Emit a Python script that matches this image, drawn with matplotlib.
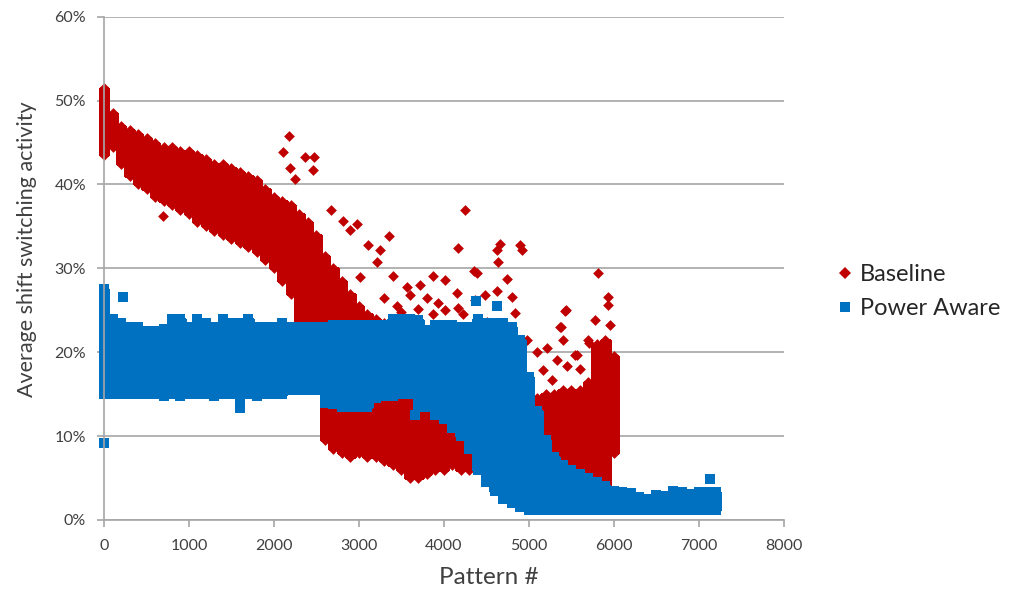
"""Shift switching activity per pattern: baseline vs power-aware ordering."""

import matplotlib

matplotlib.use("Agg")
import matplotlib.pyplot as plt  # noqa: E402
from matplotlib.lines import Line2D  # noqa: E402
from matplotlib.ticker import PercentFormatter  # noqa: E402

RED = "#C00000"
BLUE = "#0070C0"
GRID = "#A6A6A6"
TXT = "#404040"

# Dense core of each cloud, per 100-pattern bin: lowest / highest point (%)
base_x = [0, 100, 200, 300, 400, 500, 600, 700, 800, 900,
          1000, 1100, 1200, 1300, 1400, 1500, 1600, 1700, 1800, 1900,
          2000, 2100, 2200, 2300, 2400, 2500, 2600, 2700, 2800, 2900,
          3000, 3100, 3200, 3300, 3400, 3500, 3600, 3700, 3800, 3900,
          4000, 4100, 4200, 4300, 4400, 4500, 4600, 4700, 4800, 4900,
          5000, 5100, 5200, 5300, 5400, 5500, 5600, 5700, 5800, 5900,
          6000]
base_hi = [51.5, 48.5, 47, 46.5, 46, 45.5, 45, 44.5, 44.5, 44,
           44, 43.5, 43, 42.5, 42.5, 42, 41.5, 41, 40.5, 39.5,
           38.5, 38, 37.5, 36.5, 35.5, 34, 31.5, 30, 28.5, 27,
           25.5, 24.5, 24, 23.5, 20, 20, 20, 18, 18, 18,
           18, 18, 18, 18, 18, 18, 18, 18, 18, 16,
           14.5, 14.5, 15, 15, 15.5, 15.5, 15.5, 16.5, 21, 21.5,
           19.5]
base_lo = [43.5, 44.5, 42.5, 41, 40, 39.5, 38.5, 38, 37.5, 37,
           36.5, 35.5, 35, 34.5, 34, 33.5, 33, 32.5, 32, 31,
           30, 28.5, 27, 20, 20, 20, 9.5, 8.5, 8, 7.5,
           8, 7.5, 7.5, 7, 6.5, 6, 5, 5, 5.5, 6,
           6, 6.5, 6, 6, 6.5, 6, 6, 6, 6, 6,
           6, 6, 6, 6.5, 6, 5.5, 5.5, 5, 4.5, 4,
           8]

power_x = [0, 100, 200, 300, 400, 500, 600, 700, 800, 900,
           1000, 1100, 1200, 1300, 1400, 1500, 1600, 1700, 1800, 1900,
           2000, 2100, 2200, 2300, 2400, 2500, 2600, 2700, 2800, 2900,
           3000, 3100, 3200, 3300, 3400, 3500, 3600, 3700, 3800, 3900,
           4000, 4100, 4200, 4300, 4400, 4500, 4600, 4700, 4800, 4900,
           5000, 5100, 5200, 5300, 5400, 5500, 5600, 5700, 5800, 5900,
           6000, 6100, 6200, 6300, 6400, 6500, 6600, 6700, 6800, 6900,
           7000, 7100, 7200]
power_hi = [27.5, 24, 23.5, 23, 23, 22.5, 22.5, 22.8, 24, 24,
            23, 24, 23.5, 23, 24, 23.5, 23.5, 24, 23, 23,
            23, 23.5, 23, 23, 23, 23, 23, 23.3, 23.3, 23.3,
            23.3, 23.3, 23.3, 23.3, 24, 24, 24, 23.8, 22.7, 23.3,
            23.3, 23.3, 23, 23, 24, 23.5, 23.5, 23.5, 23, 21.5,
            17, 13, 9.5, 7.5, 6.5, 6, 5.5, 5, 4.5, 4,
            3.5, 3.3, 3.2, 2.7, 2.5, 3, 2.8, 3.5, 3.3, 3.1,
            3.3, 3.3, 3.3]
power_lo = [15, 15, 15, 15, 15, 15, 15, 14.8, 15, 14.8,
            15, 15, 15, 14.8, 15, 15, 14.5, 15, 14.8, 15,
            15, 15, 15.5, 15.5, 15.5, 15.5, 14, 13.8, 13.5, 13.5,
            13.5, 13.5, 14.5, 14.8, 14.8, 15, 15, 13.5, 13.5, 12.5,
            12, 11, 10, 8.5, 6, 4.5, 3.5, 2.5, 2, 1.5,
            1.2, 1.2, 1.2, 1.2, 1.2, 1.2, 1.2, 1.2, 1.2, 1.2,
            1.2, 1.2, 1.2, 1.2, 1.2, 1.2, 1.2, 1.2, 1.2, 1.2,
            1.2, 1.2, 1.2]

# Scattered points outside the dense cores
base_out_x = [694, 2176, 2106, 2365, 2471, 2188, 2459, 2247, 2671, 2812,
              2976, 2894, 3353, 3106, 3247, 3212, 3012, 3400, 3565, 3600,
              3718, 3870, 3929, 4012, 3870, 4165, 4224, 4247, 4165, 4153,
              4012, 4353, 4388, 4365, 4482, 4506, 4624, 4659, 4635, 4624,
              4741, 4800, 4835, 4894, 4918, 4976, 5094, 5165, 5212, 5270,
              5329, 5365, 5376, 5400, 5424, 5435, 5447, 5541, 5565, 5600,
              5694, 5706, 5776, 5800, 5812, 5929, 5929, 5953, 3300, 3450,
              3500, 3700, 3800]
base_out_y = [36.2, 45.8, 43.9, 43.3, 43.3, 42, 41.7, 40.6, 37, 35.6,
              35.3, 34.6, 33.8, 32.8, 32.2, 30.8, 29, 29.1, 27.8, 26.8,
              28, 29.1, 25.9, 25, 24.5, 25.3, 24.5, 37, 32.4, 27.1,
              28.6, 29.7, 29.5, 26.2, 26.8, 23.6, 32.2, 32.9, 30.8, 27.3,
              28.7, 26.6, 24.7, 32.8, 32.2, 21.5, 20, 17.9, 20.5, 16.7,
              19.1, 23, 23, 21.5, 24.9, 25, 18.3, 19.7, 19.7, 18,
              21.5, 21.1, 23.9, 19.4, 29.5, 26.6, 25.6, 23.3, 26.5, 25.5,
              24.8, 25.2, 26.5]
power_out_x = [0, 224, 4376, 4624, 3660, 7130, 1600]
power_out_y = [9.2, 26.6, 26.1, 25.5, 12.5, 4.9, 13.3]

plt.rcParams.update({"font.family": ["Lato", "DejaVu Sans"]})


def draw_cloud(ax, xs, lo, hi, ox, oy, color, marker, size):
    heights = [h - l for h, l in zip(hi, lo)]
    ax.bar(xs, heights, bottom=lo, width=104, color=color, edgecolor=color,
           linewidth=1.0, antialiased=False, clip_on=False)
    ax.scatter(xs, lo, s=size, marker=marker, color=color, linewidths=0,
               clip_on=False)
    ax.scatter(xs, hi, s=size, marker=marker, color=color, linewidths=0,
               clip_on=False)
    ax.scatter(ox, oy, s=size, marker=marker, color=color, linewidths=0,
               clip_on=False)


fig = plt.figure(figsize=(10.10, 5.99), dpi=100)
ax = fig.add_axes([0.103, 0.132, 0.673, 0.840])

draw_cloud(ax, base_x, base_lo, base_hi, base_out_x, base_out_y,
           RED, "D", 30)
draw_cloud(ax, power_x, power_lo, power_hi, power_out_x, power_out_y,
           BLUE, "s", 50)

ax.set_xlim(0, 8000)
ax.set_ylim(0, 60)
ax.set_xticks(range(0, 8001, 1000))
ax.set_yticks(range(0, 61, 10))
ax.yaxis.set_major_formatter(PercentFormatter(decimals=0))
ax.yaxis.grid(True, color=GRID, linewidth=1.2)
ax.set_axisbelow(True)
for side in ("top", "right"):
    ax.spines[side].set_visible(False)
for side in ("left", "bottom"):
    ax.spines[side].set_color(GRID)
    ax.spines[side].set_linewidth(1.2)
ax.tick_params(axis="both", direction="out", length=5, width=1.2,
               color=GRID, labelcolor=TXT, labelsize=11.5)
ax.tick_params(axis="x", pad=9)
ax.tick_params(axis="y", pad=8)
ax.set_xlabel("Pattern #", fontsize=17.5, color=TXT)
ax.xaxis.set_label_coords(0.566, -0.093)
ax.set_ylabel("Average shift switching activity", fontsize=15.5, color=TXT)
ax.yaxis.set_label_coords(-0.098, 0.539)

handles = [
    Line2D([], [], linestyle="none", marker="D", markersize=6.5,
           color=RED, markeredgewidth=0),
    Line2D([], [], linestyle="none", marker="s", markersize=7.5,
           color=BLUE, markeredgewidth=0),
]
fig.legend(handles, ["Baseline", "Power Aware"], loc="upper left",
           bbox_to_anchor=(0.806, 0.595), frameon=False, fontsize=17,
           handlelength=0.8, handletextpad=0.25, labelspacing=0.55,
           labelcolor="#262626")

fig.savefig("out.png", dpi=100)
